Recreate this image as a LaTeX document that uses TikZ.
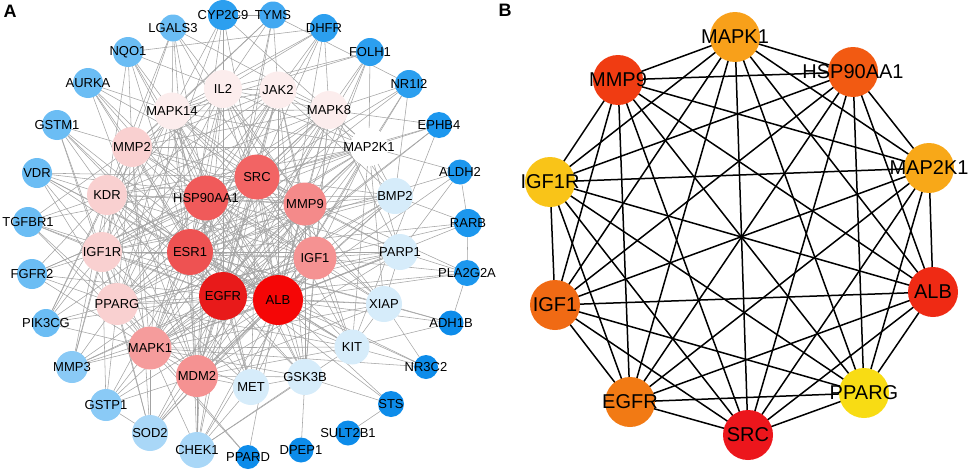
\documentclass[tikz,border=0pt]{standalone}
\usepackage{fontspec}
\setmainfont{Liberation Sans}
\usetikzlibrary{backgrounds}
\pgfdeclarelayer{fg}
\pgfsetlayers{background,main,fg}
\definecolor{rA}{HTML}{F50606}
\definecolor{rB}{HTML}{E81A1A}
\definecolor{rC}{HTML}{EE5252}
\definecolor{rD}{HTML}{F05A5A}
\definecolor{rE}{HTML}{F26464}
\definecolor{rF}{HTML}{F48A8A}
\definecolor{rG}{HTML}{F59292}
\definecolor{rH}{HTML}{F59C9C}
\definecolor{pk1}{HTML}{F9D0D0}
\definecolor{pk0}{HTML}{FCEDED}
\definecolor{lb0}{HTML}{D6ECFA}
\definecolor{pale}{HTML}{A9D7F7}
\definecolor{lb2}{HTML}{8ACAF6}
\definecolor{lb1}{HTML}{6BBDF4}
\definecolor{dk0}{HTML}{42A8F1}
\definecolor{dk1}{HTML}{2C9FEF}
\definecolor{dk2}{HTML}{1C97EE}
\definecolor{dk3}{HTML}{0D8CEA}
\definecolor{bMAPK1}{HTML}{F8A01A}
\definecolor{bMMP9}{HTML}{F03C12}
\definecolor{bHSP}{HTML}{F25A12}
\definecolor{bIGF1R}{HTML}{F9C418}
\definecolor{bMAP2K1}{HTML}{F8A818}
\definecolor{bIGF1}{HTML}{F06A14}
\definecolor{bALB}{HTML}{EF2A14}
\definecolor{bEGFR}{HTML}{F27A14}
\definecolor{bSRC}{HTML}{EC161C}
\definecolor{bPPARG}{HTML}{F8DC14}
\tikzset{
  gcirc/.style={circle, inner sep=0pt, outer sep=0pt, draw=none},
  labA/.style={font=\fontsize{13}{13}\selectfont, inner sep=0pt, text=black},
  labB/.style={font=\fontsize{20}{20}\selectfont, inner sep=0pt, text=black},
  edgeA/.style={draw=black!36, line width=0.55pt},
  edgeB/.style={draw=black, line width=1.5pt},
  panel/.style={font=\fontsize{18}{18}\selectfont\bfseries, inner sep=0pt}
}
% name, x, y, radius, colour, label
\newcommand\mkA[6]{%
  \node[gcirc, fill=#5, minimum size=2*#4 pt] (a#1) at (#2,#3) {};
  \begin{pgfonlayer}{fg}\node[labA] (la#1) at (#2,#3) {#6};\end{pgfonlayer}}
\newcommand\mkB[5]{%
  \node[gcirc, fill=#4, minimum size=50pt] (b#1) at (#2,#3) {};
  \begin{pgfonlayer}{fg}\node[labB] (lb#1) at (#2,#3) {#5};\end{pgfonlayer}}
\begin{document}
\begin{tikzpicture}[x=1pt,y=-1pt]
\useasboundingbox (0,0) rectangle (969,471);
\node[panel] (pA) at (10,11) {A};
\node[panel] (pB) at (505,10) {B};
% ---------- Panel A nodes ----------
\mkA{LGALS3}{173}{28}{13.5}{lb1}{LGALS3}
\mkA{CYP2C9}{223}{15}{15}{dk1}{CYP2C9}
\mkA{TYMS}{273}{15}{13.5}{dk0}{TYMS}
\mkA{DHFR}{324}{28}{14}{dk1}{DHFR}
\mkA{FOLH1}{370}{52}{14}{dk1}{FOLH1}
\mkA{NRII}{409}{84}{14}{dk1}{NR1I2}
\mkA{EPHB4}{439}{125}{13}{dk2}{EPHB4}
\mkA{ALDH2}{460}{172}{12.5}{dk2}{ALDH2}
\mkA{RARB}{468}{223}{14}{dk2}{RARB}
\mkA{PLA}{467}{273}{13}{dk2}{PLA2G2A}
\mkA{ADH1B}{451}{323}{12.5}{dk3}{ADH1B}
\mkA{NR3C2}{426}{367}{12}{dk3}{NR3C2}
\mkA{STS}{391}{404}{13}{dk3}{STS}
\mkA{SULT}{348}{433}{12.5}{dk3}{SULT2B1}
\mkA{DPEP1}{301}{450}{12.5}{dk3}{DPEP1}
\mkA{PPARD}{248}{457}{12}{dk3}{PPARD}
\mkA{CHEK1}{197}{450}{18}{pale}{CHEK1}
\mkA{SOD2}{150}{433}{18}{pale}{SOD2}
\mkA{GSTP1}{106}{405}{16}{lb2}{GSTP1}
\mkA{MMP3}{72}{367}{16}{lb2}{MMP3}
\mkA{PIK3CG}{46}{323}{14}{lb1}{PIK3CG}
\mkA{FGFR2}{32}{274}{15}{lb1}{FGFR2}
\mkA{TGFBR1}{28}{222}{15}{lb1}{TGFBR1}
\mkA{VDR}{37}{173}{15}{lb1}{VDR}
\mkA{GSTM1}{57}{125}{15}{lb1}{GSTM1}
\mkA{AURKA}{88}{83}{15}{lb1}{AURKA}
\mkA{NQO1}{128}{52}{15}{lb1}{NQO1}
\mkA{IL2}{223}{89}{19}{pk0}{IL2}
\mkA{MAPK14}{172}{111}{18.5}{pk0}{MAPK14}
\mkA{JAK2}{278}{90}{18.5}{pk0}{JAK2}
\mkA{MAPK8}{329}{110}{19}{pk0}{MAPK8}
\mkA{MAP2K1}{369}{147}{19}{white}{MAP2K1}
\mkA{MMP2}{132}{147}{20}{pk1}{MMP2}
\mkA{KDR}{107}{195}{20}{pk1}{KDR}
\mkA{IGF1R}{102}{252}{20}{pk1}{IGF1R}
\mkA{PPARG}{117}{304}{21}{pk1}{PPARG}
\mkA{MAPK1}{150}{348}{21.5}{rH}{MAPK1}
\mkA{MDM2}{197}{376}{21}{rG}{MDM2}
\mkA{HSP}{206}{198}{22.5}{rD}{HSP90AA1}
\mkA{SRC}{257}{177}{22.5}{rE}{SRC}
\mkA{MMP9}{305}{204}{21.5}{rF}{MMP9}
\mkA{ESR1}{190}{252}{23}{rC}{ESR1}
\mkA{IGF1}{315}{258}{21.5}{rG}{IGF1}
\mkA{EGFR}{223}{296}{24}{rB}{EGFR}
\mkA{ALB}{278}{300}{25}{rA}{ALB}
\mkA{BMP2}{395}{196}{18}{lb0}{BMP2}
\mkA{PARP1}{400}{252}{18}{lb0}{PARP1}
\mkA{XIAP}{384}{304}{18}{lb0}{XIAP}
\mkA{KIT}{352}{347}{17.5}{lb0}{KIT}
\mkA{GSK3B}{305}{377}{18}{lb0}{GSK3B}
\mkA{MET}{251}{387}{18}{lb0}{MET}
% ---------- Panel A edges ----------
\begin{pgfonlayer}{background}
\foreach \p [count=\i] in {aALB,aEGFR,aSRC,aHSP,aESR1,aMMP9,aIGF1,aMAPK1,aMDM2,aPPARG,aIGF1R,aKDR,aMMP2,aMAPK14,aIL2,aJAK2,aMAPK8,aMAP2K1}{
  \foreach \q [count=\j] in {aALB,aEGFR,aSRC,aHSP,aESR1,aMMP9,aIGF1,aMAPK1,aMDM2,aPPARG,aIGF1R,aKDR,aMMP2,aMAPK14,aIL2,aJAK2,aMAPK8,aMAP2K1}{
    \ifnum\j>\i \draw[edgeA] (\p) -- (\q); \fi }}
\foreach \p in {aALB,aEGFR,aSRC,aHSP,aESR1,aMMP9,aIGF1,aMAPK1,aMDM2}{
  \foreach \q in {aBMP2,aPARP1,aXIAP,aKIT,aGSK3B,aMET}{ \draw[edgeA] (\p) -- (\q); }}
\foreach \p/\q in {
 aBMP2/aMAP2K1,aBMP2/aMAPK8,aBMP2/aJAK2,aPARP1/aMAPK8,aXIAP/aMAPK14,aKIT/aMAP2K1,aKIT/aPPARG,
 aGSK3B/aMAPK8,aGSK3B/aJAK2,aMET/aKDR,aMET/aIGF1R,aMET/aMAPK14,aGSK3B/aMET,aKIT/aXIAP,aPARP1/aXIAP,
 aPARP1/aMAP2K1,aXIAP/aMAP2K1,aGSK3B/aMAPK14,aKIT/aKDR,aBMP2/aIGF1R,aPARP1/aPPARG,
 aLGALS3/aMAPK14,aLGALS3/aMMP2,aLGALS3/aKDR,aLGALS3/aHSP,aLGALS3/aESR1,aLGALS3/aSRC,aLGALS3/aMAPK8,aLGALS3/aMMP9,
 aCYP2C9/aTYMS,aCYP2C9/aALB,aCYP2C9/aEGFR,aCYP2C9/aESR1,aCYP2C9/aIL2,aCYP2C9/aMAPK14,aCYP2C9/aPPARG,aCYP2C9/aMAP2K1,
 aTYMS/aNRII,aTYMS/aMAPK14,aTYMS/aJAK2,aTYMS/aIL2,aTYMS/aMDM2,aTYMS/aEGFR,aTYMS/aMMP2,
 aDHFR/aJAK2,aDHFR/aMAPK8,aDHFR/aIL2,aDHFR/aMAPK14,aDHFR/aALB,aDHFR/aESR1,aDHFR/aSRC,aDHFR/aNQO1,
 aFOLH1/aMAPK8,aFOLH1/aMAP2K1,aFOLH1/aALB,aFOLH1/aEGFR,aFOLH1/aIL2,aFOLH1/aMMP9,aFOLH1/aMAPK14,
 aNRII/aBMP2,aNRII/aMAPK8,aNRII/aMAP2K1,aNRII/aALB,aNRII/aESR1,aNRII/aSRC,
 aEPHB4/aMAP2K1,aEPHB4/aSRC,aEPHB4/aEGFR,aEPHB4/aMAPK1,aEPHB4/aKIT,aEPHB4/aMAPK8,
 aALDH2/aRARB,aALDH2/aMAP2K1,aALDH2/aALB,aALDH2/aPARP1,aALDH2/aESR1,
 aRARB/aPLA,aRARB/aBMP2,aRARB/aESR1,aRARB/aALB,aRARB/aPPARG,
 aPLA/aADH1B,aPLA/aPARP1,aPLA/aALB,aPLA/aIGF1,aPLA/aEGFR,aPLA/aSRC,
 aADH1B/aKIT,aADH1B/aXIAP,aADH1B/aALB,aADH1B/aESR1,
 aNR3C2/aKIT,aNR3C2/aXIAP,aNR3C2/aESR1,aNR3C2/aALB,aNR3C2/aMAPK1,
 aSTS/aSULT,aSTS/aESR1,aSTS/aALB,aSTS/aGSK3B,
 aDPEP1/aGSK3B,
 aPPARD/aMAPK1,aPPARD/aPPARG,aPPARD/aALB,
 aCHEK1/aMDM2,aCHEK1/aEGFR,aCHEK1/aALB,aCHEK1/aSRC,aCHEK1/aESR1,aCHEK1/aMAPK1,aCHEK1/aGSK3B,aCHEK1/aMET,aCHEK1/aHSP,aCHEK1/aKIT,aCHEK1/aIGF1,
 aSOD2/aMAPK1,aSOD2/aALB,aSOD2/aEGFR,aSOD2/aMDM2,aSOD2/aPPARG,aSOD2/aIGF1R,aSOD2/aMMP2,aSOD2/aMMP9,aSOD2/aIGF1,aSOD2/aGSTP1,
 aGSTP1/aMAPK1,aGSTP1/aPPARG,aGSTP1/aEGFR,aGSTP1/aALB,aGSTP1/aESR1,aGSTP1/aMDM2,aGSTP1/aIGF1R,
 aMMP3/aMAPK1,aMMP3/aMMP2,aMMP3/aMMP9,aMMP3/aEGFR,aMMP3/aALB,aMMP3/aIGF1R,aMMP3/aPPARG,aMMP3/aKDR,aMMP3/aIGF1,
 aPIK3CG/aMAPK1,aPIK3CG/aPPARG,aPIK3CG/aEGFR,aPIK3CG/aSRC,aPIK3CG/aIGF1R,aPIK3CG/aKDR,aPIK3CG/aMAPK14,aPIK3CG/aMMP2,
 aFGFR2/aIGF1R,aFGFR2/aKDR,aFGFR2/aEGFR,aFGFR2/aSRC,aFGFR2/aMAPK1,aFGFR2/aPPARG,aFGFR2/aHSP,
 aTGFBR1/aKDR,aTGFBR1/aIGF1R,aTGFBR1/aEGFR,aTGFBR1/aSRC,aTGFBR1/aMAPK1,aTGFBR1/aPPARG,aTGFBR1/aMMP2,aTGFBR1/aALB,
 aVDR/aKDR,aVDR/aESR1,aVDR/aEGFR,aVDR/aALB,aVDR/aMMP9,aVDR/aIGF1R,aVDR/aSRC,aVDR/aPPARG,
 aGSTM1/aMMP2,aGSTM1/aALB,aGSTM1/aEGFR,aGSTM1/aPPARG,aGSTM1/aIGF1R,aGSTM1/aESR1,aGSTM1/aKDR,
 aAURKA/aMMP2,aAURKA/aMAPK14,aAURKA/aMDM2,aAURKA/aEGFR,aAURKA/aSRC,aAURKA/aALB,aAURKA/aHSP,
 aNQO1/aMMP2,aNQO1/aMAPK14,aNQO1/aKDR,aNQO1/aALB,aNQO1/aHSP,aNQO1/aESR1,aNQO1/aIL2}
 { \draw[edgeA] (\p) -- (\q); }
\end{pgfonlayer}
% ---------- Panel B ----------
\mkB{MAPK1}{735}{37}{bMAPK1}{MAPK1}
\mkB{MMP9}{618}{80}{bMMP9}{MMP9}
\mkB{HSP}{853}{72}{bHSP}{HSP90AA1}
\mkB{IGF1R}{550}{182}{bIGF1R}{IGF1R}
\mkB{MAP2K1}{929}{168}{bMAP2K1}{MAP2K1}
\mkB{IGF1}{555}{305}{bIGF1}{IGF1}
\mkB{ALB}{933}{292}{bALB}{ALB}
\mkB{EGFR}{630}{402}{bEGFR}{EGFR}
\mkB{SRC}{748}{435}{bSRC}{SRC}
\mkB{PPARG}{864}{393}{bPPARG}{PPARG}
\begin{pgfonlayer}{background}
\foreach \p [count=\i] in {bMAPK1,bMMP9,bHSP,bIGF1R,bMAP2K1,bIGF1,bALB,bEGFR,bSRC,bPPARG}{
  \foreach \q [count=\j] in {bMAPK1,bMMP9,bHSP,bIGF1R,bMAP2K1,bIGF1,bALB,bEGFR,bSRC,bPPARG}{
    \ifnum\j>\i \draw[edgeB] (\p.center) -- (\q.center); \fi }}
\end{pgfonlayer}
\end{tikzpicture}
\end{document}
